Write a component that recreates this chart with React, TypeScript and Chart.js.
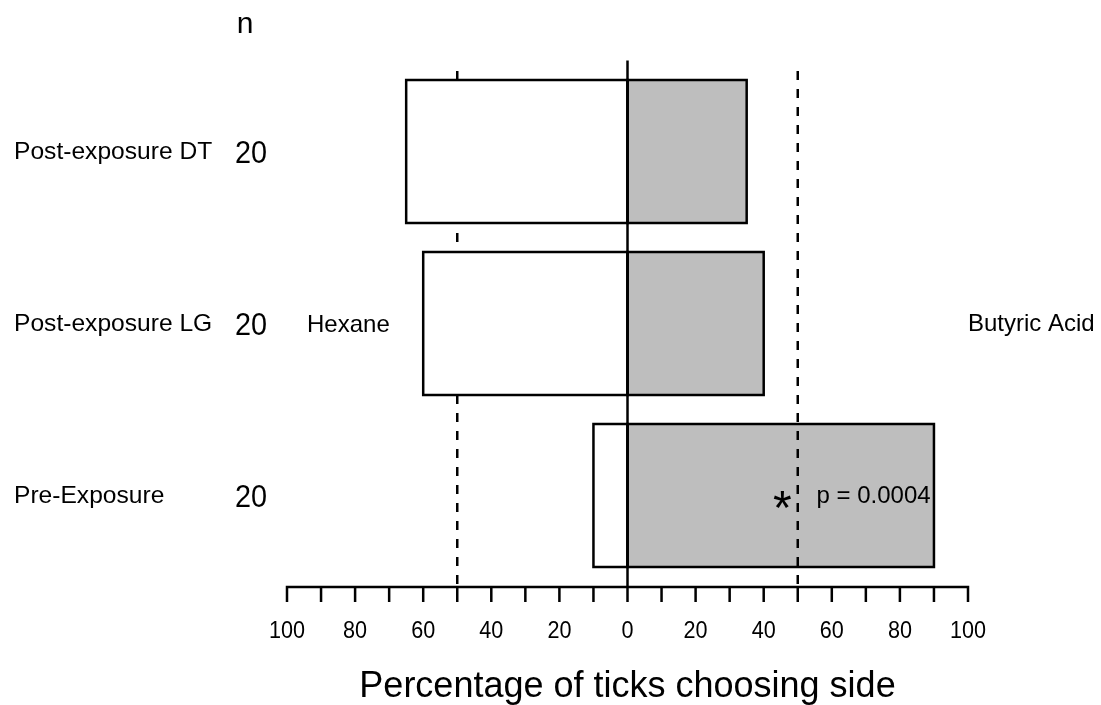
import React, { useEffect, useRef } from "react";
import { Chart, registerables } from "chart.js";

Chart.register(...registerables);

const categories = ["Post-exposure DT", "Post-exposure LG", "Pre-Exposure"];
const nValues = [20, 20, 20];
const hexaneValues = [65, 60, 10];
const butyricValues = [35, 40, 90];
const tickValues = [-100, -90, -80, -70, -60, -50, -40, -30, -20, -10, 0, 10, 20, 30, 40, 50, 60, 70, 80, 90, 100];
const labelledTicks = [-100, -80, -60, -40, -20, 0, 20, 40, 60, 80, 100];
const thresholdValues = [-50, 50];
const leftSideLabel = "Hexane";
const rightSideLabel = "Butyric Acid";
const nHeader = "n";
const xTitle = "Percentage of ticks choosing side";
const significantIndex = 2;
const significanceMark = "*";
const significanceText = "p = 0.0004";

const FONT = '"Liberation Sans", Arial, Helvetica, sans-serif';
const LW = 2.5;

function drawText(
  ctx: CanvasRenderingContext2D,
  text: string,
  x: number,
  y: number,
  size: number,
  align: CanvasTextAlign,
  sx = 1
) {
  ctx.save();
  ctx.font = `${size}px ${FONT}`;
  ctx.fillStyle = "#000";
  ctx.textAlign = align;
  ctx.textBaseline = "alphabetic";
  ctx.translate(x, y);
  ctx.scale(sx, 1);
  ctx.fillText(text, 0, 0);
  ctx.restore();
}

function vline(ctx: CanvasRenderingContext2D, x: number, y0: number, y1: number, dashed: boolean) {
  ctx.save();
  ctx.strokeStyle = "#000";
  ctx.lineWidth = LW;
  ctx.setLineDash(dashed ? [9, 9] : []);
  ctx.beginPath();
  ctx.moveTo(x, y0);
  ctx.lineTo(x, y1);
  ctx.stroke();
  ctx.restore();
}

const decorPlugin = {
  id: "decor",
  beforeDatasetsDraw(chart: any) {
    const ctx = chart.ctx as CanvasRenderingContext2D;
    const xs = chart.scales.x;
    const area = chart.chartArea;
    const axisY = area.bottom + 5.5;
    thresholdValues
      .filter((v) => v < 0)
      .forEach((v) => vline(ctx, xs.getPixelForValue(v), area.top + 5.5, axisY, true));
  },
  afterDatasetsDraw(chart: any) {
    const ctx = chart.ctx as CanvasRenderingContext2D;
    const xs = chart.scales.x;
    const ys = chart.scales.y;
    const area = chart.chartArea;
    const axisY = area.bottom + 5.5;

    // bar outlines, centred on the bar edges
    ctx.save();
    ctx.strokeStyle = "#000";
    ctx.lineWidth = LW;
    ctx.lineJoin = "miter";
    chart.data.datasets.forEach((_d: any, di: number) => {
      const meta = chart.getDatasetMeta(di);
      meta.data.forEach((el: any) => {
        const { x, y, base, height } = el.getProps(["x", "y", "base", "height"], true);
        const left = Math.min(x, base);
        const w = Math.abs(x - base);
        ctx.strokeRect(left, y - height / 2, w, height);
      });
    });
    ctx.restore();

    thresholdValues
      .filter((v) => v >= 0)
      .forEach((v) => vline(ctx, xs.getPixelForValue(v), area.top + 5.5, axisY, true));
    vline(ctx, xs.getPixelForValue(0), area.top - 5, axisY, false);

    // x axis
    ctx.save();
    ctx.strokeStyle = "#000";
    ctx.lineWidth = LW;
    ctx.beginPath();
    ctx.moveTo(xs.getPixelForValue(tickValues[0]) - LW / 2, axisY);
    ctx.lineTo(xs.getPixelForValue(tickValues[tickValues.length - 1]) + LW / 2, axisY);
    tickValues.forEach((v) => {
      const px = xs.getPixelForValue(v);
      ctx.moveTo(px, axisY);
      ctx.lineTo(px, axisY + 15);
    });
    ctx.stroke();
    ctx.restore();

    labelledTicks.forEach((v) => {
      drawText(ctx, String(Math.abs(v)), xs.getPixelForValue(v), axisY + 51, 24, "center", 0.9);
    });

    drawText(ctx, xTitle, xs.getPixelForValue(0), axisY + 110, 36, "center");

    // row labels and n
    drawText(ctx, nHeader, 245, 33, 30, "center");
    categories.forEach((c, i) => {
      const cy = ys.getPixelForValue(i);
      drawText(ctx, c, 14, cy + 7, 24.6, "left");
      drawText(ctx, String(nValues[i]), 251, cy + 11, 31, "center", 0.93);
    });

    const midY = ys.getPixelForValue(1);
    drawText(ctx, leftSideLabel, 307, midY + 8, 24, "left");
    drawText(ctx, rightSideLabel, 968, midY + 7, 24, "left");

    const sy = ys.getPixelForValue(significantIndex);
    drawText(ctx, significanceMark, xs.getPixelForValue(45.5), sy + 28, 48, "center");
    drawText(ctx, significanceText, xs.getPixelForValue(55.5), sy + 7, 24, "left");
  },
};

export default function App() {
  const ref = useRef<HTMLCanvasElement | null>(null);

  useEffect(() => {
    if (!ref.current) return;
    const chart = new Chart(ref.current, {
      type: "bar",
      data: {
        labels: categories,
        datasets: [
          {
            label: leftSideLabel,
            data: hexaneValues.map((v) => [-v, 0]) as any,
            backgroundColor: "#ffffff",
            borderWidth: 0,
            grouped: false,
            barThickness: 143,
          } as any,
          {
            label: rightSideLabel,
            data: butyricValues.map((v) => [0, v]) as any,
            backgroundColor: "#bebebe",
            borderWidth: 0,
            grouped: false,
            barThickness: 143,
          } as any,
        ],
      },
      options: {
        indexAxis: "y",
        animation: false,
        responsive: false,
        events: [],
        layout: { padding: { left: 287, right: 133, top: 65.5, bottom: 123.5 } },
        scales: {
          x: { type: "linear", min: -100, max: 100, display: false },
          y: { type: "category", display: false },
        },
        plugins: {
          legend: { display: false },
          tooltip: { enabled: false },
        },
      },
      plugins: [decorPlugin],
    });
    return () => chart.destroy();
  }, []);

  return (
    <div style={{ position: "absolute", left: 0, top: 0, width: 1101, height: 705, background: "#fff" }}>
      <canvas ref={ref} width={1101} height={705} style={{ display: "block" }} />
    </div>
  );
}
